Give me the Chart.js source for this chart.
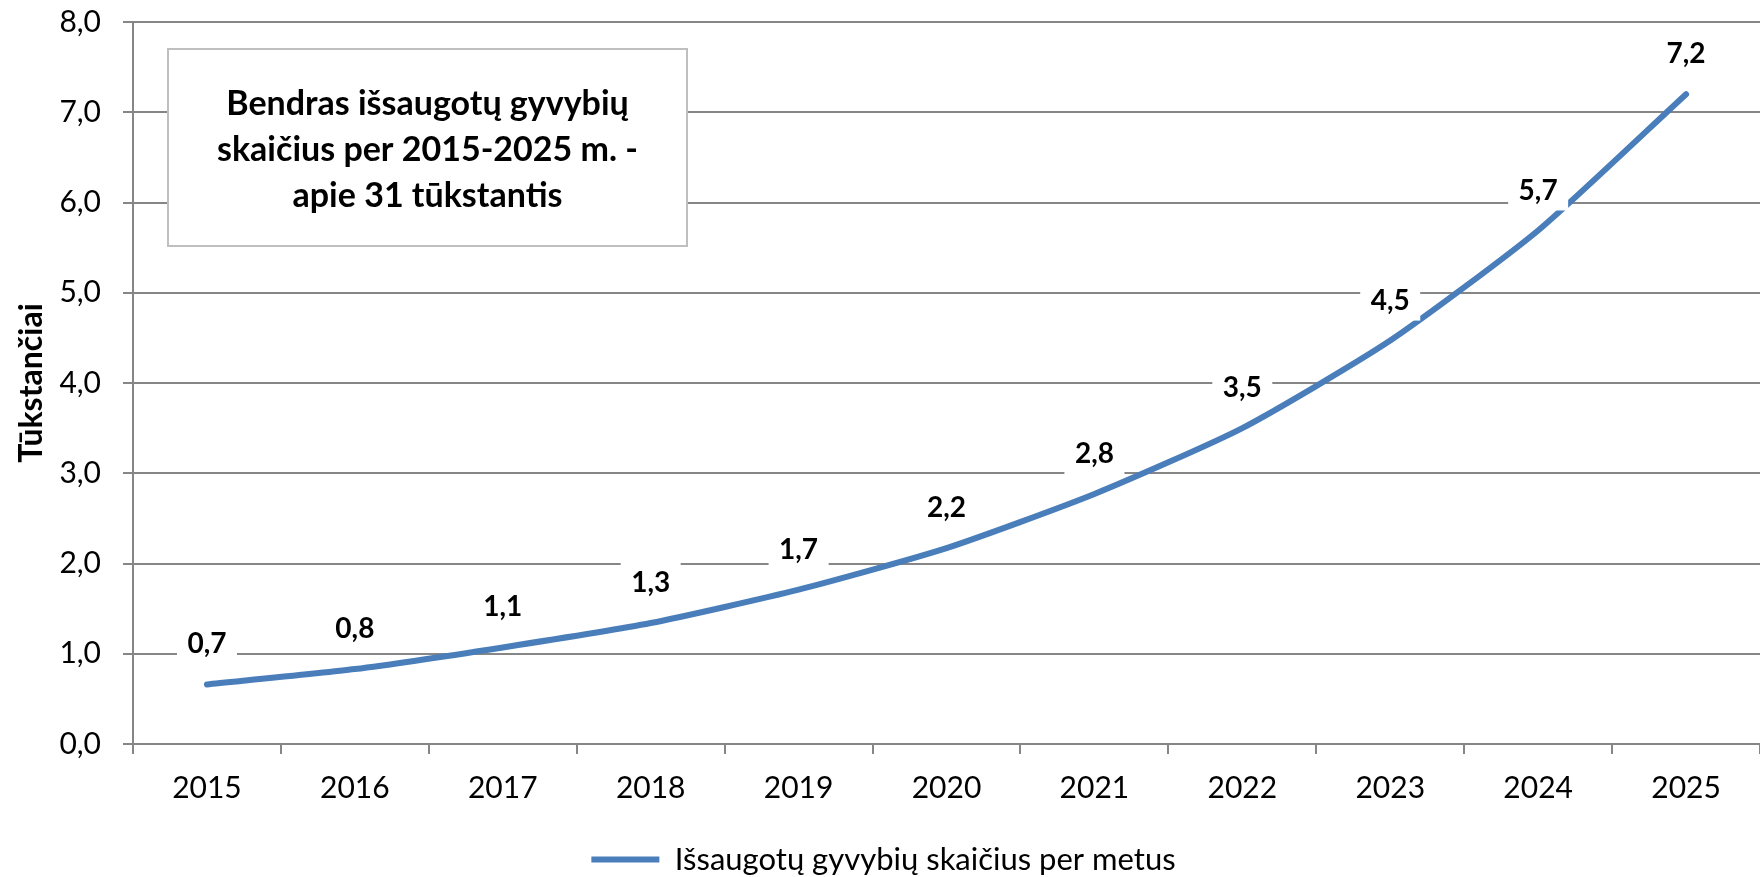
<!DOCTYPE html>
<html>
<head>
<meta charset="utf-8">
<script src="https://cdn.jsdelivr.net/npm/chart.js@4"></script>
<style>
  html, body { margin: 0; padding: 0; background: #fff; }
  #wrap { width: 1760px; height: 877px; position: relative; }
</style>
</head>
<body>
<div id="wrap"><canvas id="c"></canvas></div>
<script>
const categories = ['2015', '2016', '2017', '2018', '2019', '2020', '2021', '2022', '2023', '2024', '2025'];
const values = [0.66, 0.83, 1.07, 1.34, 1.71, 2.17, 2.77, 3.50, 4.47, 5.69, 7.20];
const seriesName = 'Išsaugotų gyvybių skaičius per metus';
const axisTitle = 'Tūkstančiai';
const noteLines = ['Bendras išsaugotų gyvybių', 'skaičius per 2015-2025 m. -', 'apie 31 tūkstantis'];
const yMin = 0, yMax = 8, yStep = 1;

const FONT = 'Lato, "Open Sans", sans-serif';
const GRID = '#868686';
const BLUE = '#4a7ebb';
const fmt = v => v.toFixed(1).replace('.', ',');

const notePlugin = {
  id: 'note',
  beforeDatasetsDraw(chart) {
    const ctx = chart.ctx, a = chart.chartArea;
    const x = a.left + 35, y = a.top + 27, w = 519, h = 197;
    ctx.save();
    ctx.fillStyle = '#fff';
    ctx.fillRect(x, y, w, h);
    ctx.strokeStyle = '#bfbfbf';
    ctx.lineWidth = 2;
    ctx.strokeRect(x, y, w, h);
    ctx.fillStyle = '#000';
    ctx.font = 'bold 34px ' + FONT;
    ctx.textAlign = 'center';
    ctx.textBaseline = 'middle';
    noteLines.forEach((t, i) => ctx.fillText(t, x + w / 2, y + 55 + i * 46));
    ctx.restore();
  }
};

const labelPlugin = {
  id: 'vlabels',
  afterDatasetsDraw(chart) {
    const ctx = chart.ctx;
    const meta = chart.getDatasetMeta(0);
    ctx.save();
    ctx.font = 'bold 28px ' + FONT;
    ctx.textAlign = 'center';
    ctx.textBaseline = 'middle';
    meta.data.forEach((pt, i) => {
      const x = pt.x, y = pt.y - 41;
      ctx.fillStyle = '#fff';
      ctx.fillRect(x - 30, y - 21, 60, 42);
      ctx.fillStyle = '#000';
      ctx.fillText(fmt(values[i]), x, y + 1);
    });
    ctx.restore();
  }
};

new Chart(document.getElementById('c'), {
  type: 'line',
  data: {
    labels: categories,
    datasets: [{
      label: seriesName,
      data: values,
      borderColor: BLUE,
      backgroundColor: BLUE,
      borderWidth: 6,
      borderCapStyle: 'round',
      borderJoinStyle: 'round',
      pointRadius: 0,
      pointHoverRadius: 0,
      tension: 0.2,
      fill: false
    }]
  },
  options: {
    responsive: true,
    maintainAspectRatio: false,
    animation: false,
    events: [],
    layout: { padding: { top: 22, right: -7, left: 0, bottom: -8 } },
    plugins: {
      tooltip: { enabled: false },
      legend: {
        position: 'bottom',
        labels: {
          color: '#000',
          font: { family: FONT, size: 31 },
          usePointStyle: true,
          pointStyle: 'line',
          pointStyleWidth: 68,
          boxHeight: 6,
          padding: 2
        }
      }
    },
    scales: {
      x: {
        offset: true,
        afterFit(s) { s.height = 98; },
        grid: {
          offset: true,
          drawOnChartArea: false,
          drawTicks: true,
          tickLength: 10,
          color: GRID,
          lineWidth: 2
        },
        border: { display: true, color: GRID, width: 2 },
        ticks: { color: '#000', font: { family: FONT, size: 30 }, padding: 16, maxRotation: 0 }
      },
      y: {
        min: yMin,
        max: yMax,
        afterFit(s) { s.width = 133; s.paddingTop = 0; s.paddingBottom = 0; },
        afterBuildTicks(s) {
          const t = [];
          for (let v = yMin; v <= yMax + 1e-9; v += yStep) t.push({ value: v });
          s.ticks = t;
        },
        grid: { color: GRID, lineWidth: 2, tickLength: 10, drawTicks: true },
        border: { display: true, color: GRID, width: 2 },
        ticks: {
          color: '#000',
          font: { family: FONT, size: 30 },
          padding: 22,
          callback: v => fmt(v)
        },
        title: {
          display: true,
          text: axisTitle,
          color: '#000',
          font: { family: FONT, size: 32, weight: 'bold' },
          padding: { top: 12, bottom: 0 }
        }
      }
    }
  },
  plugins: [notePlugin, labelPlugin]
});
</script>
</body>
</html>
